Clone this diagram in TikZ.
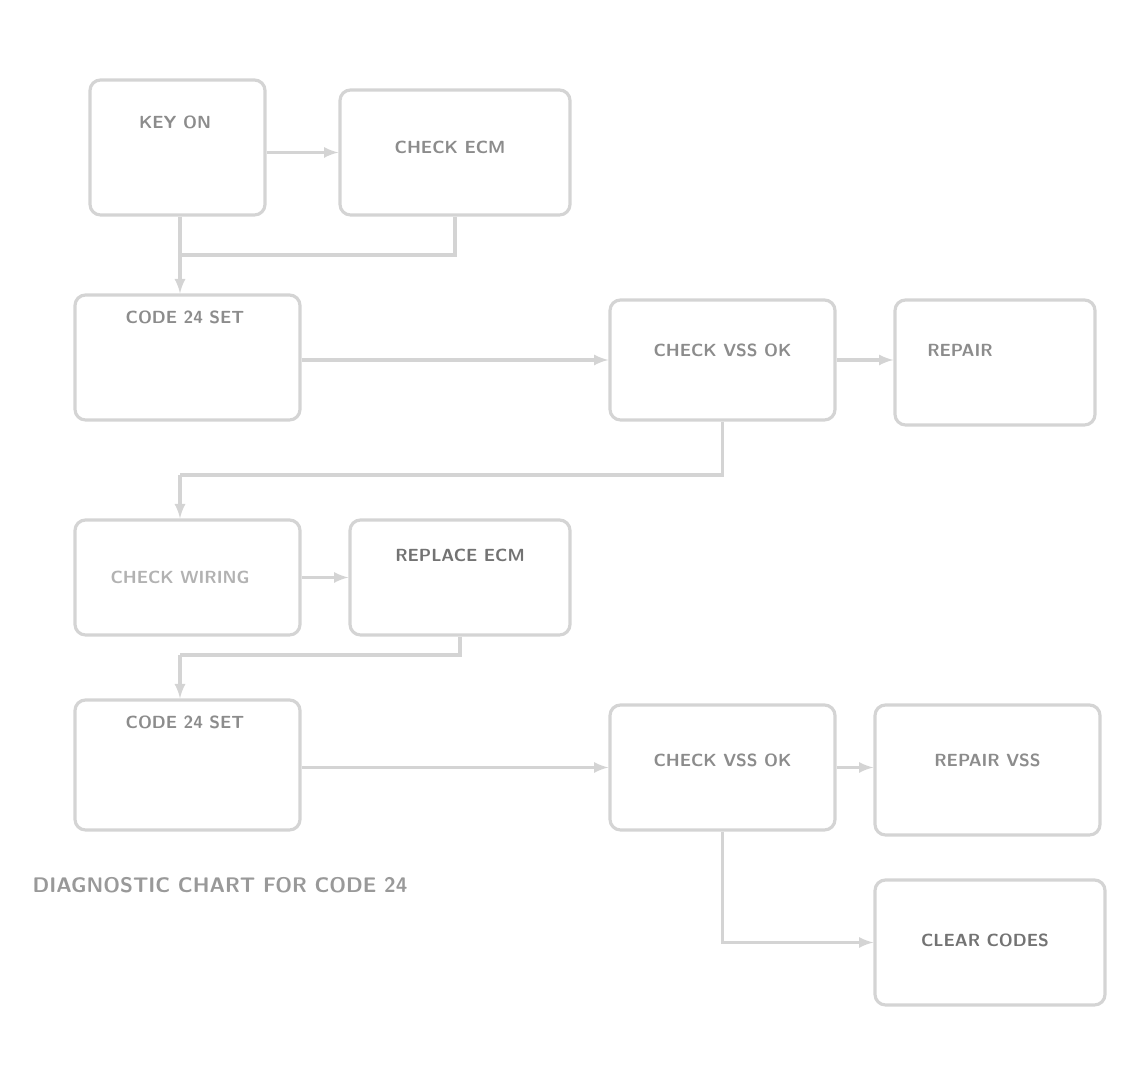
\documentclass[tikz,border=0pt]{standalone}
\usepackage{tikz}
\usetikzlibrary{calc,positioning}
\tikzset{
	chartbox/.style={draw=black!17, line width=1.8pt, rounded corners=6pt, fill=white, inner sep=0pt},
	chartlbl/.style={text=black!45, font=\sffamily\bfseries},
	flow/.style={draw=black!17, line width=1.8pt, -latex},
	link/.style={draw=black!17, line width=1.8pt}
}

\begin{document}
\begin{tikzpicture}
			%%%%% START %%%%%
			
			\useasboundingbox (0, 0) rectangle (22.8, 21.6);
			
			\node[chartbox, minimum width=3.5cm, minimum height=2.7cm] (keyon) at (3.55, 18.65) {};
			\node[chartbox, minimum width=4.6cm, minimum height=2.5cm] (ecm) at (9.1, 18.55) {};
			\node[chartbox, minimum width=4.5cm, minimum height=2.5cm] (codeA) at (3.75, 14.45) {};
			\node[chartbox, minimum width=4.5cm, minimum height=2.4cm] (vssA) at (14.45, 14.4) {};
			\node[chartbox, minimum width=4.0cm, minimum height=2.5cm] (fixA) at (19.9, 14.35) {};
			\node[chartbox, minimum width=4.5cm, minimum height=2.3cm] (wiring) at (3.75, 10.05) {};
			\node[chartbox, minimum width=4.4cm, minimum height=2.3cm] (swap) at (9.2, 10.05) {};
			\node[chartbox, minimum width=4.5cm, minimum height=2.6cm] (codeB) at (3.75, 6.3) {};
			\node[chartbox, minimum width=4.5cm, minimum height=2.5cm] (vssB) at (14.45, 6.25) {};
			\node[chartbox, minimum width=4.5cm, minimum height=2.6cm] (fixB) at (19.75, 6.2) {};
			\node[chartbox, minimum width=4.6cm, minimum height=2.5cm] (recheck) at (19.8, 2.75) {};
			
			\node[chartlbl] (keyonT) at (3.5, 19.15) {KEY ON};
			\node[chartlbl] (ecmT) at (9.0, 18.65) {CHECK ECM};
			\node[chartlbl] (codeAT) at (3.7, 15.25) {CODE 24 SET};
			\node[chartlbl] (vssAT) at (14.45, 14.6) {CHECK VSS OK};
			\node[chartlbl] (fixAT) at (19.2, 14.6) {REPAIR};
			\node[chartlbl, text=black!30] (wiringT) at (3.6, 10.05) {CHECK WIRING};
			\node[chartlbl, text=black!55] (swapT) at (9.2, 10.5) {REPLACE ECM};
			\node[chartlbl] (codeBT) at (3.7, 7.15) {CODE 24 SET};
			\node[chartlbl] (vssBT) at (14.45, 6.4) {CHECK VSS OK};
			\node[chartlbl] (fixBT) at (19.75, 6.4) {REPAIR VSS};
			\node[chartlbl, text=black!55] (recheckT) at (19.7, 2.8) {CLEAR CODES};
			
			\node[chartlbl, text=black!40, font=\sffamily\bfseries\large] (caption) at (4.4, 3.9) {DIAGNOSTIC CHART FOR CODE 24};
			
			\coordinate (jn1) at (3.6, 16.5);
			\coordinate (jn2) at (3.6, 12.1);
			\coordinate (jn3) at (3.6, 8.5);
			
			\draw[flow] (keyon.east |- ecm.west) -- (ecm.west);
			\draw[flow] (keyon.south -| jn1) -- (codeA.north -| jn1);
			\draw[link] (ecm.south) |- (jn1);
			\draw[flow] (codeA.east |- vssA.west) -- (vssA.west);
			\draw[flow] (vssA.east) -- (vssA.east -| fixA.west);
			
			\draw[link] (vssA.south) |- (jn2);
			\draw[flow] (jn2) -- (wiring.north -| jn2);
			\draw[flow] (wiring) -- (swap);
			
			\draw[link] (swap.south) |- (jn3);
			\draw[flow] (jn3) -- (codeB.north -| jn3);
			\draw[flow] (codeB.east |- vssB.west) -- (vssB.west);
			\draw[flow] (vssB.east) -- (vssB.east -| fixB.west);
			
			\draw[flow] (vssB.south) |- (recheck.west);
			
			%%%%% END %%%%%
		\end{tikzpicture}
\end{document}
